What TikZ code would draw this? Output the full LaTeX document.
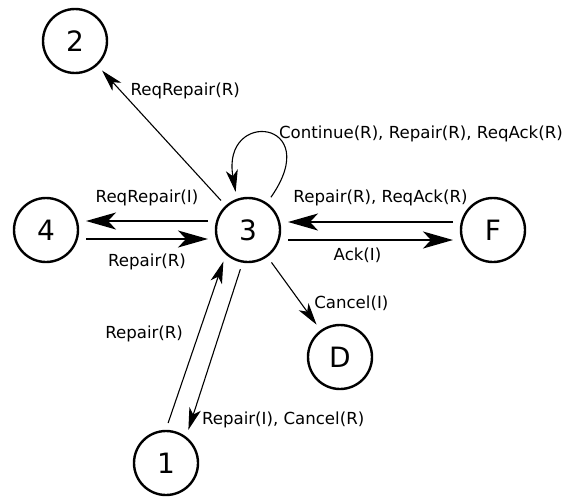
\documentclass[tikz,border=0pt]{standalone}
\usepackage{fontspec}
\setmainfont{DejaVu Sans}
\usetikzlibrary{arrows.meta,positioning}
\tikzset{%
       state/.style = { circle, draw, line width=2.4pt, minimum size=64pt, inner sep=0pt, outer sep=8pt, font=\fontsize{28}{32}\selectfont },
         lbl/.style = { inner sep=1pt, font=\fontsize{16.6}{20}\selectfont },
       trans/.style = { line width=1.1pt, -{Stealth[length=22pt,width=12pt,inset=6pt]} },
  thicktrans/.style = { line width=1.6pt, -{Stealth[length=30pt,width=17pt,inset=8pt]} }
}
\begin{document}
\begin{tikzpicture}[x=1pt,y=-1pt]
\useasboundingbox (0,0) rectangle (572,503);
% states
\node [state] (n2) at (75,41)   {2};
\node [state] (n3) at (248,230) {3};
\node [state] (n4) at (46,230)  {4};
\node [state] (nF) at (493,230) {F};
\node [state] (nD) at (340,357) {D};
\node [state] (n1) at (166,463) {1};
% transitions
\draw [trans] (n3) -- (n2) node [lbl, pos=.84, anchor=west, xshift=8pt] {ReqRepair(R)};
\draw [trans] (n3.55) .. controls +(-55:95) and +(-100:85) .. (n3.108)
  node [lbl, pos=.3, anchor=south west, xshift=-7pt, yshift=2pt] {Continue(R), Repair(R), ReqAck(R)};
\draw [thicktrans] ([yshift=9pt]n3.west) -- ([yshift=9pt]n4.east) node [lbl, midway, above=13pt] {ReqRepair(I)};
\draw [thicktrans] ([yshift=-9pt]n4.east) -- ([yshift=-9pt]n3.west) node [lbl, midway, below=13pt] {Repair(R)};
\draw [thicktrans] ([yshift=8pt]nF.west) -- ([yshift=8pt]n3.east) node [lbl, midway, above=14pt, xshift=10pt] {Repair(R), ReqAck(R)};
\draw [thicktrans] ([yshift=-10pt]n3.east) -- ([yshift=-10pt]nF.west) node [lbl, midway, below=6pt, xshift=-13pt] {Ack(I)};
\draw [trans] (n3) -- (nD) node [lbl, pos=.65, anchor=west, xshift=12pt] {Cancel(I)};
\draw [trans] (n1.87) -- (n3.232) node [lbl, pos=.55, anchor=east, xshift=-14pt] {Repair(R)};
\draw [trans] (n3.259) -- (n1.56) node [lbl, pos=.94, anchor=west, xshift=9pt] {Repair(I), Cancel(R)};
\end{tikzpicture}
\end{document}
